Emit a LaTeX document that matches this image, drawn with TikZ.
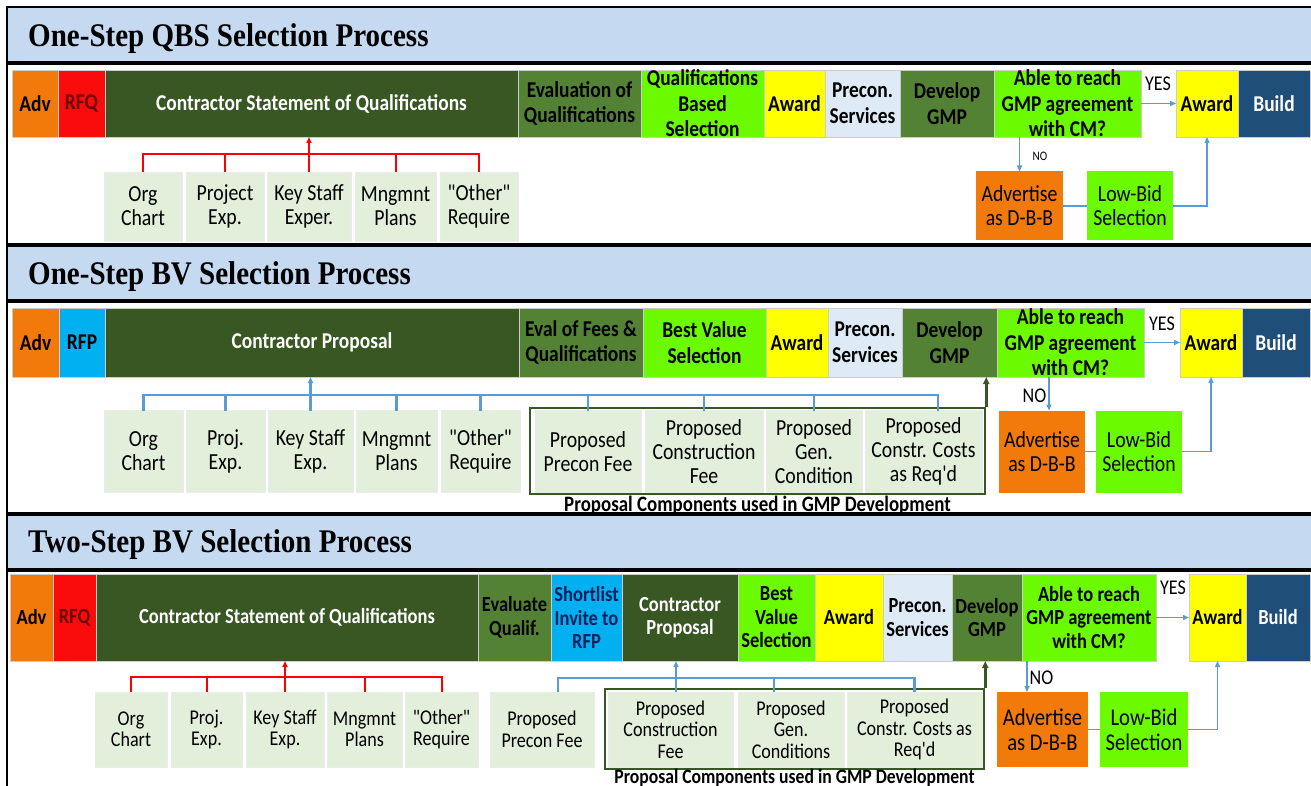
\documentclass[tikz,border=0pt]{standalone}
\usepackage{fontspec}
\setmainfont{Carlito}[FakeStretch=0.86, Ligatures=TeXOff]
\newfontfamily\headfont{Liberation Serif}[FakeStretch=0.88]
\usetikzlibrary{arrows.meta}

\definecolor{advorange}{RGB}{242,122,10}
\definecolor{rfqred}{RGB}{250,12,12}
\definecolor{rfqtext}{RGB}{110,0,0}
\definecolor{darkgreen}{RGB}{56,87,35}
\definecolor{midgreen}{RGB}{84,130,53}
\definecolor{brightgreen}{RGB}{108,250,0}
\definecolor{awardyellow}{RGB}{255,255,0}
\definecolor{preconblue}{RGB}{222,235,247}
\definecolor{buildnavy}{RGB}{31,78,121}
\definecolor{rfpblue}{RGB}{0,176,240}
\definecolor{shorttext}{RGB}{0,32,96}
\definecolor{partgreen}{RGB}{226,239,218}
\definecolor{bandblue}{RGB}{197,217,241}
\definecolor{linkblue}{RGB}{91,155,213}

\tikzset{
  band/.style={fill=bandblue, draw=black, line width=1.6pt},
  panel/.style={draw=black, line width=1.6pt},
  heading/.style={anchor=west, inner sep=0pt, font={\headfont\fontsize{33}{33}\selectfont\bfseries}},
  seg/.style={draw=black!20, line width=0.5pt, inner sep=0pt, outer sep=0pt, align=center,
    font=\fontsize{22.6}{25.5}\selectfont\bfseries},
  segc/.style={seg, font=\fontsize{21.5}{23.5}\selectfont\bfseries},
  part/.style={fill=partgreen, draw=black!8, line width=0.5pt, inner sep=0pt, outer sep=0pt,
    align=center, font=\fontsize{23}{24}\selectfont},
  partc/.style={part, font=\fontsize{21}{21.5}\selectfont},
  bundle/.style={draw=darkgreen, line width=2.5pt, inner sep=0pt},
  note/.style={anchor=north, inner sep=0pt, font=\fontsize{22}{22}\selectfont\bfseries},
  yesno/.style={inner sep=0pt, font=\fontsize{21}{21}\selectfont},
  redbus/.style={draw=red, line width=2pt},
  bluebus/.style={draw=linkblue, line width=2.2pt},
  flow/.style={draw=linkblue, line width=1.3pt},
  ahead/.style={-{Triangle[length=6pt,width=5pt]}},
  greenup/.style={draw=darkgreen, line width=2.5pt, -{Triangle[length=7pt,width=6pt]}},
}

\begin{document}
\begin{tikzpicture}[x=1pt, y=-1pt]
\useasboundingbox (0,0) rectangle (1311,786);
\clip (0,0) rectangle (1311,786);

% ---- one-step QBS ----
\draw[band] (7,7) rectangle (1330,62);
\draw[panel] (7,64) rectangle (1330,244);
\node[heading] (title1) at (28,38.5) {One-Step QBS Selection Process};

\begin{scope}[every node/.append style={minimum height=67}]
\node[seg, fill=advorange, minimum width=46] (adv1) at (35,103.5) {Adv};
\node[seg, fill=rfqred, text=rfqtext, minimum width=47] (rfq1) at (81.5,103.5) {RFQ};
\node[seg, fill=darkgreen, text=white, minimum width=413] (soq1) at (311.5,103.5) {Contractor Statement of Qualifications};
\node[seg, fill=midgreen, minimum width=123] (eval1) at (579.5,103.5) {Evaluation of\\Qualifications};
\node[seg, fill=brightgreen, minimum width=123] (qbs1) at (702.5,103.5) {Qualifications\\Based\\Selection};
\node[seg, fill=awardyellow, minimum width=61] (award1) at (794.5,103.5) {Award};
\node[seg, fill=preconblue, minimum width=75] (precon1) at (862.5,103.5) {Precon.\\Services};
\node[seg, fill=midgreen, minimum width=94] (dev1) at (947,103.5) {Develop\\GMP};
\node[seg, fill=brightgreen, minimum width=147] (ask1) at (1067.5,103.5) {Able to reach\\GMP agreement\\with CM?};
\node[seg, fill=awardyellow, minimum width=62] (final1) at (1207,103.5) {Award};
\node[seg, fill=buildnavy, text=white, minimum width=72] (build1) at (1274,103.5) {Build};
\end{scope}

\begin{scope}[every node/.append style={minimum height=69}]
\node[part, minimum width=78] (org1) at (143,206.5) {Org\\Chart};
\node[part, minimum width=78] (exp1) at (225,206.5) {Project\\Exp.};
\node[part, minimum width=84] (key1) at (309,206.5) {Key Staff\\Exper.};
\node[part, minimum width=81] (plan1) at (395.5,206.5) {Mngmnt\\Plans};
\node[part, minimum width=78] (other1) at (479,206.5) {"Other"\\Require};
\node[part, fill=advorange, draw=none, minimum width=87] (dbb1) at (1019.5,206) {Advertise\\as D-B-B};
\node[part, fill=brightgreen, draw=none, minimum width=86] (low1) at (1130,206) {Low-Bid\\Selection};
\end{scope}

\coordinate (bus1) at (143,154);
\draw[redbus] (org1.north) |- (other1.north |- bus1) -- (other1.north);
\foreach \b in {exp1,plan1}
  \draw[redbus] (\b.north) -- (\b.north |- bus1);
\draw[redbus, ahead] (key1.north) -- (key1.north |- soq1.south);

\draw[flow, ahead] (ask1.east) -- (final1.west);
\draw[flow, ahead] (dbb1.north |- ask1.south) -- (dbb1.north);
\draw[flow] (dbb1.east) -- (low1.west);
\draw[flow, ahead] (low1.east) -| (final1.south);
\node[yesno] (yes1) at (1158,84) {YES};
\node[yesno, font=\fontsize{13}{13}\selectfont] (no1) at (1040,156) {NO};

% ---- one-step BV ----
\draw[band] (7,246) rectangle (1330,300);
\draw[panel] (7,302) rectangle (1330,513);
\node[heading] (title2) at (28,276.5) {One-Step BV Selection Process};

\begin{scope}[every node/.append style={minimum height=69}]
\node[seg, fill=advorange, minimum width=47] (adv2) at (35.5,342.5) {Adv};
\node[seg, fill=rfpblue, minimum width=46] (rfp2) at (82,342.5) {RFP};
\node[seg, fill=darkgreen, text=white, minimum width=414] (prop2) at (312,342.5) {Contractor Proposal};
\node[seg, fill=midgreen, minimum width=124] (eval2) at (581,342.5) {Eval of Fees \&\\Qualifications};
\node[seg, fill=brightgreen, minimum width=123] (bv2) at (704.5,342.5) {Best Value\\Selection};
\node[seg, fill=awardyellow, minimum width=62] (award2) at (797,342.5) {Award};
\node[seg, fill=preconblue, minimum width=74] (precon2) at (865,342.5) {Precon.\\Services};
\node[seg, fill=midgreen, minimum width=95] (dev2) at (949.5,342.5) {Develop\\GMP};
\node[seg, fill=brightgreen, minimum width=147] (ask2) at (1070.5,342.5) {Able to reach\\GMP agreement\\with CM?};
\node[seg, fill=awardyellow, minimum width=62] (final2) at (1211,342.5) {Award};
\node[seg, fill=buildnavy, text=white, minimum width=68] (build2) at (1276,342.5) {Build};
\end{scope}

\node[bundle, minimum width=455, minimum height=86] (comp2) at (757.5,451) {};
\begin{scope}[every node/.append style={minimum height=82}]
\node[part, minimum width=79] (org2) at (143.5,451.5) {Org\\Chart};
\node[part, minimum width=79] (exp2) at (225.5,451.5) {Proj.\\Exp.};
\node[part, minimum width=85] (key2) at (310.5,451.5) {Key Staff\\Exp.};
\node[part, minimum width=81] (plan2) at (396.5,451.5) {Mngmnt\\Plans};
\node[part, minimum width=79] (other2) at (480.5,451.5) {"Other"\\Require};
\node[part, minimum width=106] (pfee2) at (588,451.5) {Proposed\\Precon Fee};
\node[part, minimum width=118] (cfee2) at (704,451.5) {Proposed\\Construction\\Fee};
\node[part, minimum width=96] (gen2) at (814,451.5) {Proposed\\Gen.\\Condition};
\node[part, minimum width=117] (cost2) at (923.5,451.5) {Proposed\\Constr. Costs\\as Req'd};
\node[part, fill=advorange, draw=none, minimum width=86] (dbb2) at (1042,451.5) {Advertise\\as D-B-B};
\node[part, fill=brightgreen, draw=none, minimum width=86] (low2) at (1139,451.5) {Low-Bid\\Selection};
\end{scope}
\node[note] (cap2) at ([yshift=-1pt]comp2.south) {Proposal Components used in GMP Development};

\coordinate (bus2) at (143,395);
\coordinate (feed2) at ([xshift=14.5pt]cost2.north);
\draw[bluebus] (org2.north) |- (feed2 |- bus2) -- (feed2);
\foreach \b in {exp2,plan2,other2,pfee2,cfee2,gen2}
  \draw[bluebus] (\b.north) -- (\b.north |- bus2);
\draw[bluebus, ahead] (key2.north) -- (key2.north |- prop2.south);
\draw[greenup] (comp2.north east) -- (comp2.north east |- dev2.south);

\coordinate (drop2) at ([xshift=7pt]dbb2.north);
\draw[flow, ahead] (ask2.east) -- (final2.west);
\draw[flow, ahead] (drop2 |- ask2.south) -- (drop2);
\draw[flow] (dbb2.east) -- (low2.west);
\draw[flow, ahead] (low2.east) -| (final2.south);
\node[yesno] (yes2) at (1162,323.5) {YES};
\node[yesno] (no2) at (1034.5,396) {NO};

% ---- two-step BV ----
\draw[band] (7,515) rectangle (1330,569);
\draw[panel] (7,571) rectangle (1330,800);
\node[heading] (title3) at (28,545) {Two-Step BV Selection Process};

\begin{scope}[every node/.append style={minimum height=87}]
\node[segc, fill=advorange, minimum width=43] (adv3) at (31.5,617.5) {Adv};
\node[segc, fill=rfqred, text=rfqtext, minimum width=43] (rfq3) at (74.5,617.5) {RFQ};
\node[segc, fill=darkgreen, text=white, minimum width=382] (soq3) at (287,617.5) {Contractor Statement of Qualifications};
\node[segc, fill=midgreen, minimum width=73] (evalq3) at (514.5,617.5) {Evaluate\\Qualif.};
\node[segc, fill=rfpblue, text=shorttext, minimum width=71] (short3) at (586.5,617.5) {Shortlist\\Invite to\\RFP};
\node[segc, fill=darkgreen, text=white, minimum width=116] (prop3) at (680,617.5) {Contractor\\Proposal};
\node[segc, fill=brightgreen, minimum width=77] (bv3) at (776.5,617.5) {Best\\Value\\Selection};
\node[segc, fill=awardyellow, minimum width=68] (award3) at (849,617.5) {Award};
\node[segc, fill=preconblue, minimum width=69] (precon3) at (917.5,617.5) {Precon.\\Services};
\node[segc, fill=midgreen, minimum width=70] (dev3) at (987,617.5) {Develop\\GMP};
\node[segc, fill=brightgreen, minimum width=134] (ask3) at (1089,617.5) {Able to reach\\GMP agreement\\with CM?};
\node[segc, fill=awardyellow, minimum width=57] (final3) at (1217.5,617.5) {Award};
\node[segc, fill=buildnavy, text=white, minimum width=64] (build3) at (1278,617.5) {Build};
\end{scope}

\node[bundle, minimum width=379, minimum height=80] (comp3) at (794.5,729) {};
\begin{scope}[every node/.append style={minimum height=75}]
\node[partc, minimum width=72] (org3) at (131,729.5) {Org\\Chart};
\node[partc, minimum width=71] (exp3) at (206.5,729.5) {Proj.\\Exp.};
\node[partc, minimum width=78] (key3) at (285,729.5) {Key Staff\\Exp.};
\node[partc, minimum width=75] (plan3) at (364.5,729.5) {Mngmnt\\Plans};
\node[partc, minimum width=73] (other3) at (441.5,729.5) {"Other"\\Require};
\node[partc, minimum width=104] (pfee3) at (542,729.5) {Proposed\\Precon Fee};
\node[partc, minimum width=125] (cfee3) at (670.5,729.5) {Proposed\\Construction\\Fee};
\node[partc, minimum width=106] (gen3) at (791,729.5) {Proposed\\Gen.\\Conditions};
\node[partc, minimum width=135] (cost3) at (914.5,729.5) {Proposed\\Constr. Costs as\\Req'd};
\node[part, fill=advorange, draw=none, minimum width=91, font=\fontsize{24}{25}\selectfont] (dbb3) at (1042.5,729.5) {Advertise\\as D-B-B};
\node[part, fill=brightgreen, draw=none, minimum width=88, font=\fontsize{24}{25}\selectfont] (low3) at (1144,729.5) {Low-Bid\\Selection};
\end{scope}
\node[note, font=\fontsize{20.5}{20.5}\selectfont\bfseries] (cap3) at ([yshift=1.5pt]comp3.south) {Proposal Components used in GMP Development};

\coordinate (bus3) at (131,677);
\draw[redbus] (org3.north) |- (other3.north |- bus3) -- (other3.north);
\foreach \b in {exp3,plan3}
  \draw[redbus] (\b.north) -- (\b.north |- bus3);
\draw[redbus, ahead] (key3.north) -- (key3.north |- soq3.south);

\coordinate (link3) at (558,678);
\coordinate (feedA3) at ([xshift=16pt]pfee3.north);
\coordinate (feedB3) at ([xshift=-17pt]gen3.north);
\coordinate (feedC3) at ([xshift=5.5pt]cfee3.north);
\draw[bluebus] (feedA3) |- (cost3.north |- link3) -- (cost3.north);
\draw[bluebus] (feedB3) -- (feedB3 |- link3);
\draw[bluebus, ahead] (feedC3) -- (feedC3 |- prop3.south);
\draw[greenup] (comp3.north east) -- (comp3.north east |- dev3.south);

\coordinate (drop3) at ([xshift=-15.5pt]dbb3.north);
\draw[flow, ahead] (ask3.east) -- (final3.west);
\draw[flow, ahead] (drop3 |- ask3.south) -- (drop3);
\draw[flow] (dbb3.east) -- (low3.west);
\draw[flow, ahead] (low3.east) -| (final3.south);
\node[yesno] (yes3) at (1173,587.5) {YES};
\node[yesno] (no3) at (1041.5,678) {NO};
\end{tikzpicture}
\end{document}
